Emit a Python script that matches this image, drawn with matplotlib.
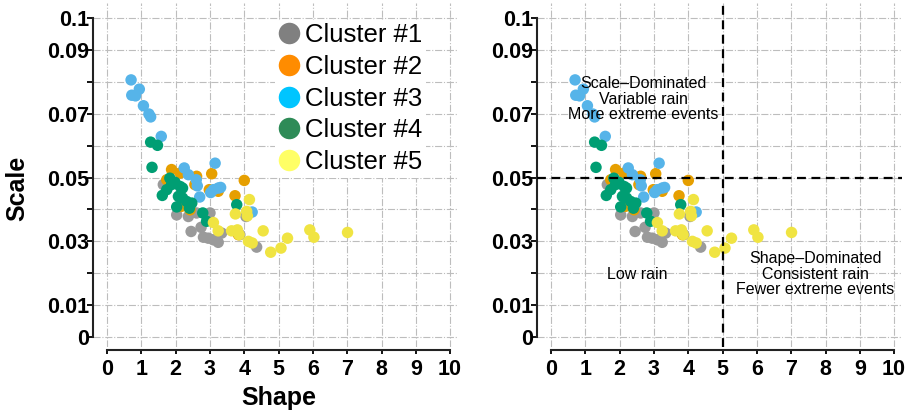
import numpy as np
import matplotlib
matplotlib.use("Agg")
import matplotlib.pyplot as plt
from matplotlib.lines import Line2D

plt.rcParams["font.family"] = ["Liberation Sans", "DejaVu Sans"]

# cluster points (shape, scale)
c1_shape = [1.64, 2.03, 2.37, 2.45, 2.74, 2.61, 3.00, 2.95, 3.10, 3.24, 2.81, 3.34, 4.36, 4.05, 3.87]
c1_scale = [0.0478, 0.0383, 0.0378, 0.0331, 0.0344, 0.0389, 0.0389, 0.0310, 0.0305, 0.0297, 0.0313, 0.0326, 0.0282, 0.0378, 0.0321]
c2_shape = [1.88, 2.13, 2.61, 3.05, 4.00, 3.73, 2.98, 3.24, 1.74, 2.17, 2.42, 3.83, 2.56]
c2_scale = [0.0525, 0.0514, 0.0504, 0.0512, 0.0491, 0.0443, 0.0462, 0.0457, 0.0493, 0.0410, 0.0399, 0.0321, 0.0478]
c3_shape = [0.70, 0.72, 0.83, 0.94, 1.06, 1.22, 1.27, 1.58, 2.25, 2.37, 2.60, 2.63, 2.70, 3.15, 3.10, 3.24, 3.31, 3.02, 4.23]
c3_scale = [0.0806, 0.0758, 0.0756, 0.0777, 0.0725, 0.0699, 0.0690, 0.0629, 0.0530, 0.0509, 0.0493, 0.0474, 0.0439, 0.0545, 0.0462, 0.0467, 0.0469, 0.0453, 0.0392]
c4_shape = [1.27, 1.47, 1.31, 1.61, 1.83, 1.88, 1.98, 2.13, 2.20, 2.03, 2.08, 2.20, 2.32, 2.47, 2.40, 2.79, 2.90, 3.78, 1.74]
c4_scale = [0.0611, 0.0601, 0.0532, 0.0444, 0.0498, 0.0478, 0.0485, 0.0472, 0.0467, 0.0408, 0.0441, 0.0436, 0.0425, 0.0420, 0.0404, 0.0389, 0.0363, 0.0415, 0.0462]
c5_shape = [3.10, 3.24, 3.63, 3.80, 3.85, 3.74, 4.15, 4.07, 4.09, 4.12, 4.23, 4.55, 4.77, 5.07, 5.26, 5.91, 6.03, 7.01]
c5_scale = [0.0359, 0.0333, 0.0333, 0.0336, 0.0321, 0.0386, 0.0431, 0.0394, 0.0380, 0.0300, 0.0295, 0.0333, 0.0266, 0.0279, 0.0310, 0.0336, 0.0313, 0.0328]

clusters = ["Cluster #1", "Cluster #2", "Cluster #3", "Cluster #4", "Cluster #5"]
point_colors = ["#9a9a9a", "#E69F00", "#56B4E9", "#009E73", "#F0E442"]
legend_colors = ["#808080", "#FF8C00", "#00C5FF", "#2E8B57", "#FFFF66"]
shapes = [c1_shape, c2_shape, c3_shape, c4_shape, c5_shape]
scales = [c1_scale, c2_scale, c3_scale, c4_scale, c5_scale]

x_ticks = list(range(0, 11))
y_major = [0, 0.01, 0.03, 0.05, 0.07, 0.09, 0.1]
y_major_labels = ["0", "0.01", "0.03", "0.05", "0.07", "0.09", "0.1"]
y_minor = [0.02, 0.04, 0.06, 0.08]

W, H = 917, 415
fig = plt.figure(figsize=(W / 100, H / 100), dpi=100)


def make_axes(left_px):
    ax = fig.add_axes([left_px / W, (H - 347) / H, 365 / W, 344 / H])
    # spines first: moving a spine resets the tick objects
    for s in ["top", "right"]:
        ax.spines[s].set_visible(False)
    ax.spines["bottom"].set_position(("outward", 2.2))
    for s in ["left", "bottom"]:
        ax.spines[s].set_linewidth(1.5)
        ax.spines[s].set_color("#222222")
    for xs, ys, col in zip(shapes, scales, point_colors):
        ax.scatter(xs, ys, s=68, color=col, edgecolors="none", zorder=3)
    ax.set_xlim(-0.41, 10.23)
    ax.set_ylim(-0.0031, 0.1047)
    ax.set_xticks(x_ticks)
    ax.set_xticklabels([str(t) for t in x_ticks], fontsize=15.5, fontweight="bold")
    ax.set_yticks(y_major)
    ax.set_yticklabels(y_major_labels, fontsize=15.5, fontweight="bold")
    ax.set_yticks(y_minor, minor=True)
    ax.spines["left"].set_bounds(0, 0.1)
    ax.spines["bottom"].set_bounds(0, 10)
    ax.grid(True, which="both", color="#bdbdbd", linestyle="-.", linewidth=0.8, zorder=0)
    ax.tick_params(axis="x", which="major", length=3, width=1.3, pad=3.5, direction="out")
    ax.tick_params(axis="y", which="both", length=4.5, width=1.3, pad=-1.5, direction="out")
    return ax


ax1 = make_axes(93)
ax1.text(-0.208, 0.462, "Scale", transform=ax1.transAxes, rotation=90,
         ha="center", va="center", fontsize=18, fontweight="bold")
ax1.text(0.51, -0.148, "Shape", transform=ax1.transAxes,
         ha="center", va="center", fontsize=18, fontweight="bold")
handles = [Line2D([], [], marker="o", linestyle="none", markersize=15.5,
                  markerfacecolor=c, markeredgecolor="none") for c in legend_colors]
leg = ax1.legend(handles, clusters, loc="upper right", bbox_to_anchor=(0.912, 0.952),
                 fontsize=18.5, frameon=True, framealpha=1, edgecolor="none",
                 handlelength=0.8, handletextpad=0.2, labelspacing=0.3,
                 borderpad=0.15, borderaxespad=0)
leg.get_frame().set_facecolor("white")
leg.set_zorder(5)

ax2 = make_axes(537)
ax2.axvline(5, color="black", linestyle=(0, (4, 2.5)), linewidth=1.6, zorder=4)
ax2.axhline(0.05, color="black", linestyle=(0, (4, 2.5)), linewidth=1.6, zorder=4)
ax2.text(2.68, 0.0746, "Scale–Dominated\nVariable rain\nMore extreme events",
         ha="center", va="center", fontsize=11.5, linespacing=1.05, zorder=6)
ax2.text(2.51, 0.0197, "Low rain", ha="center", va="center", fontsize=11.5, zorder=6)
ax2.text(7.7, 0.0197, "Shape–Dominated\nConsistent rain\nFewer extreme events",
         ha="center", va="center", fontsize=11.5, linespacing=1.05, zorder=6)

fig.savefig("out.png", dpi=100)
